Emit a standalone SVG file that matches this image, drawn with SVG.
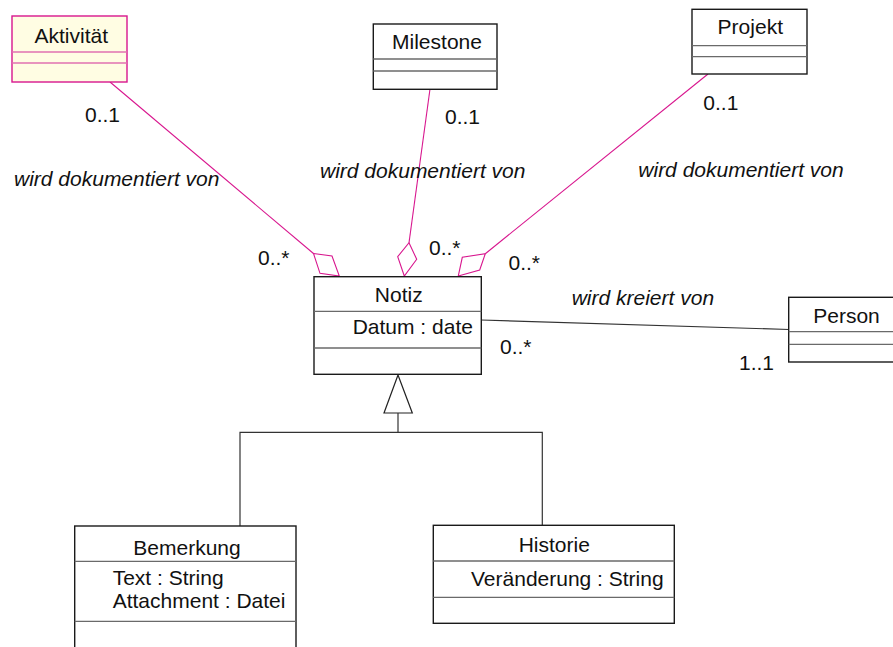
<svg xmlns="http://www.w3.org/2000/svg" width="893" height="647" viewBox="0 0 893 647">
  <style>
    text { font-family: "Liberation Sans", Arial, sans-serif; font-size: 21px; fill: #111; }
    .it { font-style: italic; }
    .mid { text-anchor: middle; }
    .box { fill: #fff; stroke: #1a1a1a; stroke-width: 1.4; }
    .sep { stroke: #6a6a6a; stroke-width: 1.3; fill: none; }
    .pbox { fill: #fffde3; stroke: #d8168e; stroke-width: 1.4; }
    .psep { stroke: #e070b0; stroke-width: 1.3; fill: none; }
    .agg { stroke: #d8168e; stroke-width: 1.1; fill: none; }
    .dia { stroke: #d8168e; stroke-width: 1.1; fill: #fff; }
    .ln { stroke: #333; stroke-width: 1.2; fill: none; }
    .tri { stroke: #222; stroke-width: 1.2; fill: #fff; }
  </style>

  <!-- associations and generalization -->
  <g id="connectors">
    <line class="agg" x1="110" y1="82" x2="313.5" y2="253.5"/>
    <polygon class="dia" points="313.5,253.5 332,256 339.3,276 320,273.3"/>
    <line class="agg" x1="430" y1="89" x2="409" y2="242.7"/>
    <polygon class="dia" points="409,242.7 416.7,259.3 404.3,276 397.7,256.7"/>
    <line class="agg" x1="708" y1="74" x2="485.3" y2="253.7"/>
    <polygon class="dia" points="485.3,253.7 479.7,270 458.3,276 462.3,257.3"/>
    <line class="ln" x1="481" y1="320" x2="789" y2="329.5"/>
    <polygon class="tri" points="398,375 384,413 412.3,413"/>
    <polyline class="ln" points="398,413 398,432.3"/>
    <polyline class="ln" points="240,526 240,432.3 542.3,432.3 542.3,525.3"/>

    <text x="85" y="122.3">0..1</text>
    <text class="it" x="14" y="185.7">wird dokumentiert von</text>
    <text x="445" y="124.3">0..1</text>
    <text class="it" x="320" y="178.3">wird dokumentiert von</text>
    <text x="703.3" y="110">0..1</text>
    <text class="it" x="638.3" y="176.7">wird dokumentiert von</text>
    <text x="258" y="265.3">0..*</text>
    <text x="429" y="255.3">0..*</text>
    <text x="508.5" y="270">0..*</text>
    <text x="500" y="354.3">0..*</text>
    <text class="it" x="571.7" y="305">wird kreiert von</text>
    <text x="739" y="370">1..1</text>
  </g>

  <g id="aktivitaet">
    <rect class="pbox" x="12" y="16" width="115" height="66"/>
    <line class="psep" x1="12" y1="52" x2="127" y2="52"/>
    <line class="psep" x1="12" y1="63" x2="127" y2="63"/>
    <text class="mid" x="71.3" y="42.7">Aktivität</text>
  </g>

  <g id="milestone">
    <rect class="box" x="373.3" y="24" width="123.7" height="65.3"/>
    <line class="sep" x1="373.3" y1="59" x2="497" y2="59"/>
    <line class="sep" x1="373.3" y1="71" x2="497" y2="71"/>
    <text class="mid" x="437" y="49">Milestone</text>
  </g>

  <g id="projekt">
    <rect class="box" x="692" y="9.3" width="115" height="64.7"/>
    <line class="sep" x1="692" y1="45.7" x2="807" y2="45.7"/>
    <line class="sep" x1="692" y1="56.7" x2="807" y2="56.7"/>
    <text class="mid" x="750.3" y="34.3">Projekt</text>
  </g>

  <g id="notiz">
    <rect class="box" x="314" y="276.7" width="167.3" height="97.6"/>
    <line class="sep" x1="314" y1="311.3" x2="481.3" y2="311.3"/>
    <line class="sep" x1="314" y1="348" x2="481.3" y2="348"/>
    <text class="mid" x="398.8" y="302.3">Notiz</text>
    <text x="352.7" y="334.3">Datum : date</text>
  </g>

  <g id="person">
    <rect class="box" x="788.7" y="297.3" width="120" height="64.7"/>
    <line class="sep" x1="788.7" y1="331.7" x2="893" y2="331.7"/>
    <line class="sep" x1="788.7" y1="344.3" x2="893" y2="344.3"/>
    <text class="mid" x="846.5" y="323.3">Person</text>
  </g>

  <g id="bemerkung">
    <rect class="box" x="74.7" y="526" width="221.3" height="140"/>
    <line class="sep" x1="74.7" y1="561.3" x2="296" y2="561.3"/>
    <line class="sep" x1="74.7" y1="621.3" x2="296" y2="621.3"/>
    <text class="mid" x="187" y="555.3">Bemerkung</text>
    <text x="112.7" y="585.3">Text : String</text>
    <text x="112.7" y="608.3">Attachment : Datei</text>
  </g>

  <g id="historie">
    <rect class="box" x="433.3" y="525.3" width="241" height="98"/>
    <line class="sep" x1="433.3" y1="561" x2="674.3" y2="561"/>
    <line class="sep" x1="433.3" y1="597.3" x2="674.3" y2="597.3"/>
    <text class="mid" x="554.3" y="552.3">Historie</text>
    <text x="471" y="586">Veränderung : String</text>
  </g>
</svg>
